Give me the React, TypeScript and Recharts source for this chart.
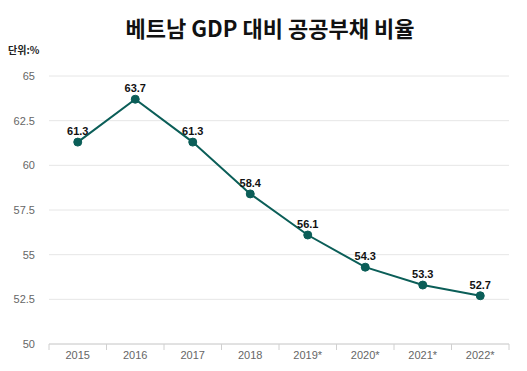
import React from "react";
import { LineChart, Line, XAxis, YAxis, CartesianGrid, LabelList } from "recharts";

const years = ["2015", "2016", "2017", "2018", "2019*", "2020*", "2021*", "2022*"];
const debtRatio = [61.3, 63.7, 61.3, 58.4, 56.1, 54.3, 53.3, 52.7];
const yTicks = [50, 52.5, 55, 57.5, 60, 62.5, 65];

const data = years.map((year, i) => ({ year, value: debtRatio[i] }));

const LATIN = "'Liberation Sans', Arial, sans-serif";
const KOREAN = "'Noto Sans CJK KR', 'Noto Sans', sans-serif";

function YearTick(props: any) {
  const { x, y, payload, index } = props;
  const half = payload.offset || 0;
  const last = index === years.length - 1;
  return (
    <g>
      <line x1={x - half} y1={y - 8} x2={x - half} y2={y - 2} stroke="#d0d0d0" />
      {last && <line x1={x + half} y1={y - 8} x2={x + half} y2={y - 2} stroke="#d0d0d0" />}
      <text x={x} y={y + 7} textAnchor="middle" fill="#666" fontSize={11} fontFamily={LATIN}>
        {payload.value}
      </text>
    </g>
  );
}

export default function App() {
  return (
    <div style={{ position: "absolute", left: 0, top: 0, width: 527, height: 371, background: "#fff" }}>
      <div
        style={{
          position: "absolute",
          left: 0,
          top: 10,
          width: 540,
          textAlign: "center",
          fontFamily: KOREAN,
          fontWeight: 700,
          fontSize: 22,
          color: "#111",
          lineHeight: "34px",
        }}
      >
        베트남 GDP 대비 공공부채 비율
      </div>
      <div
        style={{
          position: "absolute",
          left: 8,
          top: 42,
          fontFamily: KOREAN,
          fontWeight: 700,
          fontSize: 10,
          color: "#222",
        }}
      >
        단위:%
      </div>
      <LineChart width={527} height={371} data={data} margin={{ top: 76, right: 18, left: 0, bottom: 0 }}>
        <CartesianGrid vertical={false} stroke="#e6e6e6" />
        <XAxis
          dataKey="year"
          scale="band"
          height={27}
          axisLine={{ stroke: "#d0d0d0" }}
          tickLine={false}
          tick={<YearTick />}
          interval={0}
        />
        <YAxis
          width={49}
          domain={[50, 65]}
          ticks={yTicks}
          axisLine={false}
          tickLine={false}
          tick={{ fill: "#666", fontSize: 11, fontFamily: LATIN }}
          tickMargin={8}
        />
        <Line
          type="linear"
          dataKey="value"
          stroke="#0b5e58"
          strokeWidth={2}
          dot={{ r: 4, fill: "#0b5e58", stroke: "#0b5e58", strokeWidth: 1 }}
          isAnimationActive={false}
        >
          <LabelList
            dataKey="value"
            position="top"
            offset={7}
            fill="#111"
            fontSize={11}
            fontWeight={700}
            fontFamily={LATIN}
          />
        </Line>
      </LineChart>
    </div>
  );
}
